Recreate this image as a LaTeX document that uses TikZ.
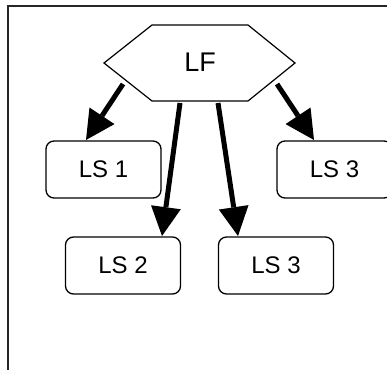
\documentclass[tikz,border=0pt]{standalone}
\usepackage{fontspec}
\setmainfont{Liberation Sans}
\usetikzlibrary{arrows.meta}
\begin{document}
\begin{tikzpicture}[x=1pt,y=-1pt,
  lsbox/.style={draw=black,line width=1.3pt,rounded corners=8pt,minimum width=115pt,minimum height=57pt,inner sep=0pt,font=\fontsize{24}{27}\selectfont},
  hexline/.style={draw=black,line width=1.2pt,line join=miter},
  frameline/.style={draw=black!85,line width=2pt},
  arr/.style={line width=5pt,-{Triangle[length=29pt,width=30pt,line width=0pt]}}]
\clip (0,0) rectangle (387,369);
\fill[white] (0,0) rectangle (387,369);
\draw[frameline] (8,6) rectangle (420,420);
% hexagon
\draw[hexline,fill=white] (104,63) -- (152,25) -- (248,25) -- (295,63) -- (248,101) -- (152,101) -- cycle;
\node[font=\fontsize{27}{30}\selectfont] (lf) at (200,62) {LF};
% boxes
\node[lsbox] (ls1) at (103.5,169.5) {LS 1};
\node[lsbox] (ls3r) at (334.5,169.5) {LS 3};
\node[lsbox] (ls2) at (123,265.5) {LS 2};
\node[lsbox] (ls3m) at (276,265.5) {LS 3};
% arrow anchors
\coordinate (s1) at (123,84);
\coordinate (s2) at (180,103);
\coordinate (s3) at (218,103);
\coordinate (s4) at (277,84);
\coordinate (e1) at (86,140);
\coordinate (e2) at (162,236);
\coordinate (e3) at (238,236);
\coordinate (e4) at (314,140);
\draw[arr] (s1) -- (e1);
\draw[arr] (s2) -- (e2);
\draw[arr] (s3) -- (e3);
\draw[arr] (s4) -- (e4);
\end{tikzpicture}
\end{document}
